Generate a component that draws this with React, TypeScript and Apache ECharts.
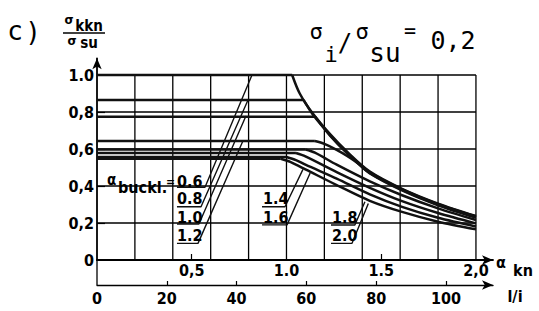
import React, { useEffect, useRef } from "react";
import * as echarts from "echarts";

// ---------- data ----------
const alphaBucklLabels = ["0.6", "0.8", "1.0", "1.2", "1.4", "1.6", "1.8", "2.0"];

// curves: [alpha_kn, sigma_kkn / sigma_su]; first two points = plateau
const curve06 = [[0, 1.0], [1.03, 1.0], [1.07, 0.9], [1.14, 0.79], [1.23, 0.68], [1.32, 0.585], [1.44, 0.478], [1.61, 0.385], [1.8, 0.305], [2.0, 0.238]];
const curve08 = [[0, 0.865], [1.09, 0.865], [1.14, 0.785], [1.23, 0.675], [1.32, 0.58], [1.44, 0.474], [1.61, 0.382], [1.8, 0.302], [2.0, 0.236]];
const curve10 = [[0, 0.775], [1.152, 0.775], [1.23, 0.672], [1.32, 0.577], [1.44, 0.47], [1.61, 0.379], [1.8, 0.299], [2.0, 0.232]];
const curve12 = [[0, 0.643], [1.15, 0.643], [1.2, 0.628], [1.265, 0.595], [1.32, 0.562], [1.38, 0.52], [1.44, 0.468], [1.61, 0.376], [1.8, 0.296], [2.0, 0.229]];
const curve14 = [[0, 0.597], [1.1, 0.597], [1.15, 0.58], [1.265, 0.515], [1.44, 0.425], [1.61, 0.35], [1.8, 0.279], [2.0, 0.216]];
const curve16 = [[0, 0.578], [1.05, 0.578], [1.1, 0.56], [1.265, 0.475], [1.44, 0.39], [1.61, 0.318], [1.8, 0.254], [2.0, 0.198]];
const curve18 = [[0, 0.557], [1.0, 0.557], [1.05, 0.54], [1.1, 0.515], [1.265, 0.44], [1.44, 0.355], [1.61, 0.287], [1.8, 0.228], [2.0, 0.181]];
const curve20 = [[0, 0.547], [0.97, 0.547], [1.02, 0.53], [1.1, 0.49], [1.265, 0.405], [1.44, 0.32], [1.61, 0.26], [1.8, 0.207], [2.0, 0.166]];
const curves = [curve06, curve08, curve10, curve12, curve14, curve16, curve18, curve20];

// label underline + leader line for each alpha_buckl label
const leader06 = [[0.422, 0.393], [0.57, 0.393], [0.818, 1.0]];
const leader08 = [[0.422, 0.288], [0.549, 0.288], [0.797, 0.865]];
const leader10 = [[0.422, 0.195], [0.538, 0.195], [0.786, 0.778]];
const leader12 = [[0.422, 0.09], [0.533, 0.09], [0.77, 0.643]];
const leader14 = [[0.871, 0.288], [0.992, 0.288], [1.087, 0.49]];
const leader16 = [[0.871, 0.19], [1.003, 0.19], [1.125, 0.47]];
const leader18 = [[1.235, 0.189], [1.361, 0.189], [1.414, 0.315]];
const leader20 = [[1.235, 0.09], [1.346, 0.09], [1.432, 0.306]];
const leaders = [leader06, leader08, leader10, leader12, leader14, leader16, leader18, leader20];

// label anchor (left, middle) for each alpha_buckl label
const labelAnchors = [[0.422, 0.427], [0.422, 0.33], [0.422, 0.232], [0.422, 0.13], [0.876, 0.33], [0.876, 0.232], [1.24, 0.232], [1.24, 0.13]];

// grid
const gridAlpha = [0.2, 0.4, 0.6, 0.8, 1.0, 1.2, 1.4, 1.6, 1.8, 2.0];
const gridValues = [0.2, 0.4, 0.6, 0.8, 1.0];

// axes
const alphaTickLabels = [0.5, 1.0, 1.5, 2.0];
const alphaTickText = ["0,5", "1.0", "1.5", "2,0"];
const slenderTickLabels = [0, 20, 40, 60, 80, 100];
const yTickLabels = [0, 0.2, 0.4, 0.6, 0.8, 1.0];
const yTickText = ["0", "0,2", "0,4", "0,6", "0,8", "1.0"];
const slenderPerAlpha = 54.3; // l/i corresponding to alpha_kn = 1

const ALPHA_MAX = 2.09;
const Y_MAX = 1.09;

const FONT = "DejaVu Sans Condensed";
const MONO = "DejaVu Sans Mono";

export default function App() {
  const ref = useRef<HTMLDivElement>(null);

  useEffect(() => {
    if (!ref.current) return;
    const chart = echarts.init(ref.current, null, { renderer: "svg" });

    const gridData = [
      ...gridAlpha.map((a) => [a, 0, a, 1.0]),
      ...gridValues.map((v) => [0, v, 2.0, v]),
      [0, 0, 0, -0.135],
    ];

    const curveStyle = { color: "#111", width: 2.5 };
    const plateauSeries = curves.map((c, i) => ({
      type: "line",
      name: "α_buckl " + alphaBucklLabels[i] + " plateau",
      data: c.slice(0, 2),
      showSymbol: false,
      symbol: "none",
      lineStyle: curveStyle,
      z: 5,
      silent: true,
    }));
    const fallSeries = curves.map((c, i) => ({
      type: "line",
      name: "α_buckl " + alphaBucklLabels[i],
      data: c.slice(1),
      showSymbol: false,
      symbol: "none",
      smooth: 0.3,
      lineStyle: curveStyle,
      z: 5,
      silent: true,
    }));

    const leaderSeries = leaders.map((l) => ({
      type: "line",
      data: l,
      showSymbol: false,
      symbol: "none",
      lineStyle: { color: "#111", width: 1.4 },
      z: 4,
      silent: true,
    }));

    const txt = (x: number, y: number, text: string, font: string) => ({
      type: "text",
      x,
      y,
      style: { text, font, fill: "#000", align: "center", verticalAlign: "middle" },
    });

    const option: any = {
      animation: false,
      backgroundColor: "#fff",
      grid: { left: 97, right: 46, top: 58.35, bottom: 51, containLabel: false },
      xAxis: [
        {
          type: "value",
          min: 0,
          max: ALPHA_MAX,
          position: "bottom",
          axisLine: { show: true, lineStyle: { color: "#000", width: 1.8 }, symbol: ["none", "arrow"], symbolSize: [7, 11] },
          axisTick: { show: true, inside: true, length: 6, customValues: [0.5, 1.5], lineStyle: { color: "#000", width: 1.2 } },
          axisLabel: {
            show: true,
            customValues: alphaTickLabels,
            formatter: (v: number) => {
              const i = alphaTickLabels.findIndex((t) => Math.abs(t - v) < 1e-6);
              return i >= 0 ? alphaTickText[i] : "";
            },
            margin: 2,
            fontFamily: FONT,
            fontWeight: "bold",
            fontSize: 16,
            color: "#000",
          },
          splitLine: { show: false },
        },
        {
          type: "value",
          min: 0,
          max: ALPHA_MAX * slenderPerAlpha,
          position: "bottom",
          offset: 25,
          axisLine: { show: true, lineStyle: { color: "#000", width: 1.4 }, symbol: ["none", "arrow"], symbolSize: [7, 11] },
          axisTick: { show: true, inside: true, length: 4, customValues: [20, 40, 60, 80, 100], lineStyle: { color: "#000", width: 1.2 } },
          axisLabel: {
            show: true,
            customValues: slenderTickLabels,
            formatter: (v: number) => String(Math.round(v)),
            margin: 5,
            fontFamily: FONT,
            fontWeight: "bold",
            fontSize: 16,
            color: "#000",
          },
          splitLine: { show: false },
        },
      ],
      yAxis: {
        type: "value",
        min: 0,
        max: Y_MAX,
        axisLine: { show: true, lineStyle: { color: "#000", width: 1.8 }, symbol: ["none", "arrow"], symbolSize: [7, 11] },
        axisTick: { show: true, inside: true, length: 8, customValues: [0.2, 0.4, 0.6, 0.8], lineStyle: { color: "#000", width: 1.2 } },
        axisLabel: {
          show: true,
          customValues: yTickLabels,
          formatter: (v: number) => {
            const i = yTickLabels.findIndex((t) => Math.abs(t - v) < 1e-6);
            return i >= 0 ? yTickText[i] : "";
          },
          margin: 3,
          fontFamily: FONT,
          fontWeight: "bold",
          fontSize: 16,
          color: "#000",
        },
        splitLine: { show: false },
      },
      series: [
        {
          type: "custom",
          name: "grid",
          clip: false,
          silent: true,
          z: 1,
          data: gridData,
          renderItem: (params: any, api: any) => {
            const p1 = api.coord([api.value(0), api.value(1)]);
            const p2 = api.coord([api.value(2), api.value(3)]);
            return {
              type: "line",
              shape: { x1: p1[0], y1: p1[1], x2: p2[0], y2: p2[1] },
              style: { stroke: "#000", lineWidth: 1.3 },
            };
          },
        },
        ...leaderSeries,
        ...plateauSeries,
        ...fallSeries,
        {
          type: "custom",
          name: "labels",
          clip: false,
          silent: true,
          z: 6,
          data: labelAnchors,
          renderItem: (params: any, api: any) => {
            const p = api.coord([api.value(0), api.value(1)]);
            return {
              type: "text",
              x: p[0],
              y: p[1],
              style: {
                text: alphaBucklLabels[params.dataIndex],
                font: `bold 16px "${FONT}"`,
                fill: "#000",
                align: "left",
                verticalAlign: "middle",
              },
            };
          },
        },
        {
          type: "custom",
          name: "alphaBucklText",
          clip: false,
          silent: true,
          z: 6,
          data: [[0.053, 0.432]],
          renderItem: (params: any, api: any) => {
            const p = api.coord([api.value(0), api.value(1)]);
            return {
              type: "group",
              children: [
                { type: "text", x: p[0], y: p[1], style: { text: "α", font: `bold 15px "${FONT}"`, fill: "#000", align: "left", verticalAlign: "middle" } },
                { type: "text", x: p[0] + 11, y: p[1] + 7, style: { text: "buckl.", font: `bold 16px "${FONT}"`, fill: "#000", align: "left", verticalAlign: "middle" } },
                { type: "text", x: p[0] + 59, y: p[1] + 2, style: { text: "=", font: `bold 12px "${FONT}"`, fill: "#000", align: "left", verticalAlign: "middle" } },
              ],
            };
          },
        },
      ],
      graphic: [
        txt(15, 31, "c", `26px "${MONO}"`),
        txt(33, 32, ")", `26px "${MONO}"`),
        txt(69, 19, "σ", `bold 13px "${FONT}"`),
        txt(89, 26, "kkn", `bold 15px "${FONT}"`),
        { type: "line", shape: { x1: 63, y1: 33, x2: 105, y2: 33 }, style: { stroke: "#000", lineWidth: 1.5 } },
        txt(72, 40, "σ", `bold 13px "${FONT}"`),
        txt(89, 43, "su", `bold 15px "${FONT}"`),
        txt(316, 31, "σ", `22px "${MONO}"`),
        txt(331, 54, "i", `22px "${MONO}"`),
        txt(345, 43, "/", `24px "${MONO}"`),
        txt(362, 31, "σ", `22px "${MONO}"`),
        txt(385, 53, "su", `26px "${MONO}"`),
        txt(410, 30, "=", `20px "${MONO}"`),
        txt(453, 40, "0,2", `25px "${MONO}"`),
        txt(501, 262, "α", `bold 16px "${FONT}"`),
        txt(523, 270, "kn", `bold 16px "${FONT}"`),
        txt(515, 296, "l/i", `bold 16px "${FONT}"`),
      ],
    };

    chart.setOption(option);
    return () => chart.dispose();
  }, []);

  return (
    <div
      ref={ref}
      style={{ position: "fixed", left: 0, top: 0, width: 539, height: 311, background: "#fff" }}
    />
  );
}
